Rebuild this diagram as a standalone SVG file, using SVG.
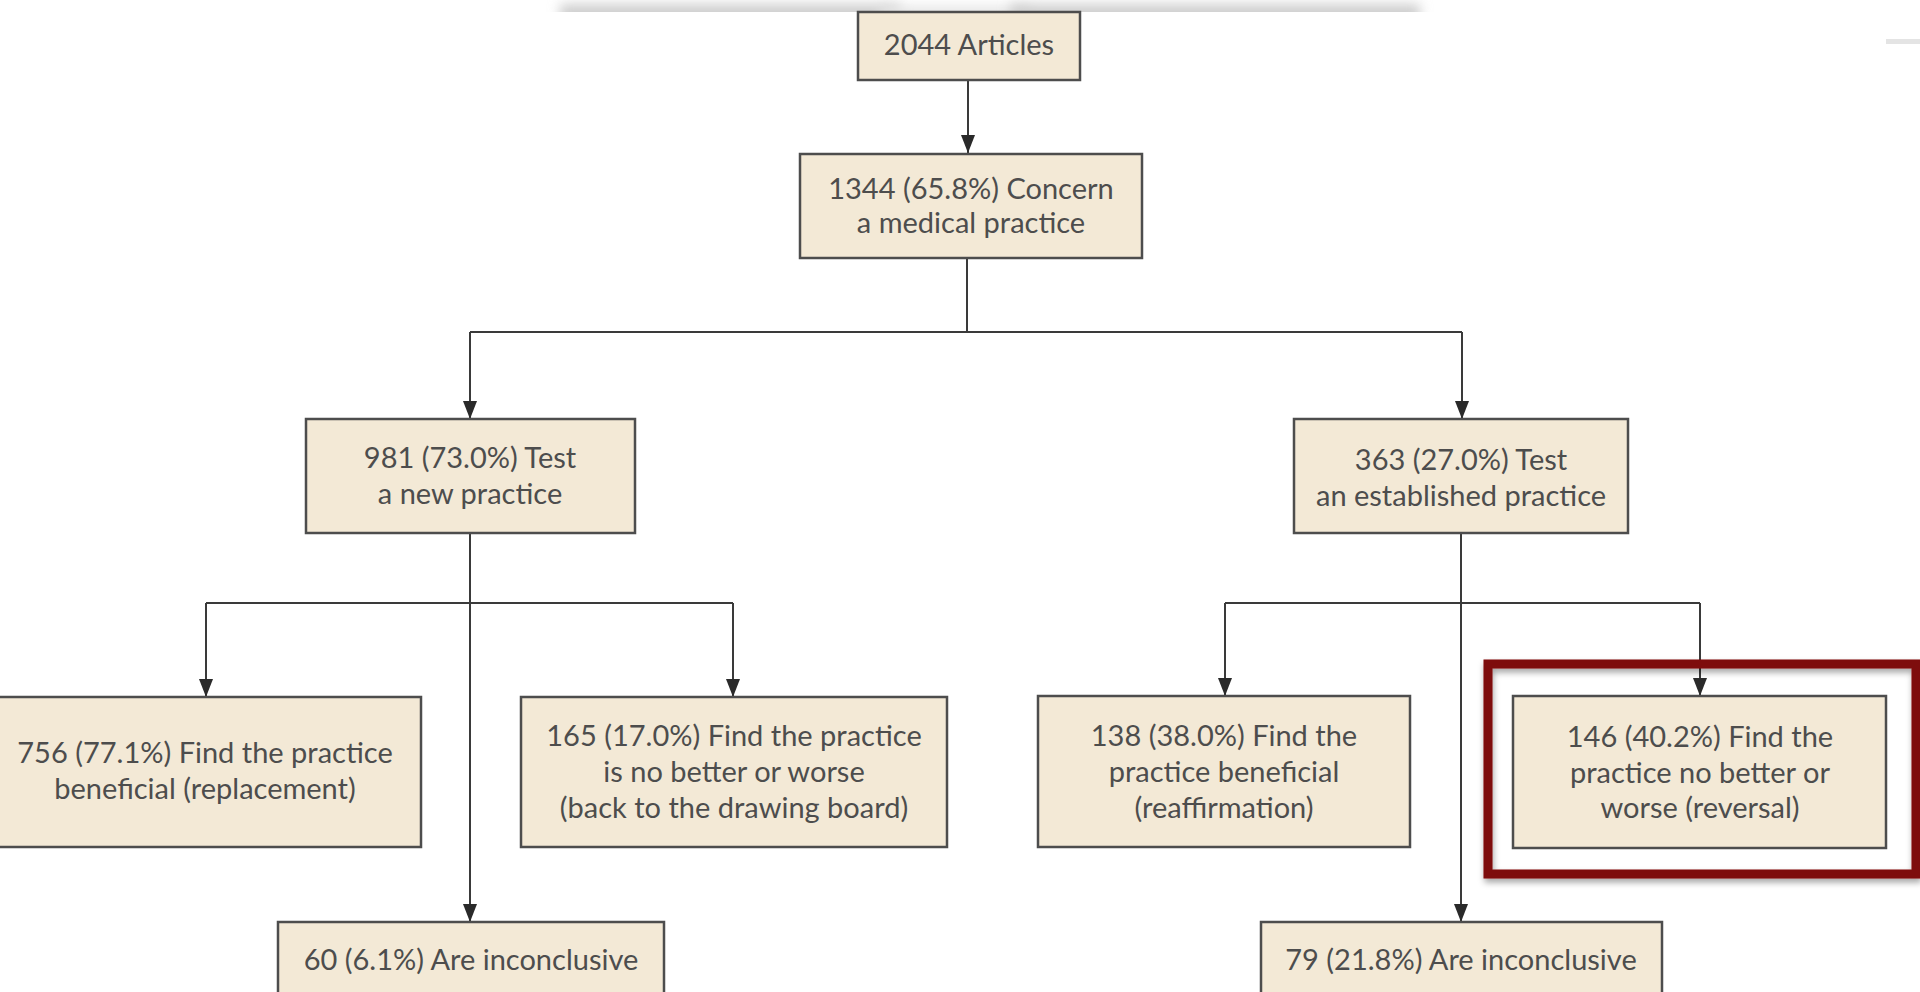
<svg xmlns="http://www.w3.org/2000/svg" width="1920" height="992" viewBox="0 0 1920 992">
<style>
.box{fill:#f3e9d6;stroke:#4d4d4d;stroke-width:2.5}
.t{font-family:Lato,"Open Sans","Liberation Sans",sans-serif;font-size:29px;fill:#4d4d4d;text-anchor:middle}
.c{fill:none;stroke:#3a3a3a;stroke-width:2}
</style>
<defs>
<marker id="ah" viewBox="0 0 18 14" refX="18" refY="7" markerWidth="18" markerHeight="14" markerUnits="userSpaceOnUse" orient="auto">
<path d="M0,0 L18,7 L0,14 z" fill="#2a2a2a"/>
</marker>
<filter id="blur" x="-20%" y="-300%" width="140%" height="700%"><feGaussianBlur stdDeviation="6"/></filter>
<filter id="sh" x="-10%" y="-10%" width="130%" height="130%"><feDropShadow dx="1" dy="4" stdDeviation="3" flood-color="#000" flood-opacity="0.35"/></filter>
</defs>
<rect width="1920" height="992" fill="#fff"/>
<g id="topband">
<rect x="560" y="4" width="340" height="22" fill="#cfcfcf" filter="url(#blur)"/>
<rect x="880" y="6" width="150" height="22" fill="#e6e6e6" filter="url(#blur)"/>
<rect x="1010" y="4" width="410" height="22" fill="#cfcfcf" filter="url(#blur)"/>
<rect x="0" y="12" width="1920" height="40" fill="#fff"/>
<rect x="1886" y="39" width="34" height="5" fill="#e4e4e4"/>
</g>
<g id="connectors">
<path class="c" d="M968,80 V153" marker-end="url(#ah)"/>
<path class="c" d="M967,259 V332 M470,332 H1462"/>
<path class="c" d="M470,332 V419" marker-end="url(#ah)"/>
<path class="c" d="M1462,332 V419" marker-end="url(#ah)"/>
<path class="c" d="M470,533 V922" marker-end="url(#ah)"/>
<path class="c" d="M206,603 H733"/>
<path class="c" d="M206,603 V697" marker-end="url(#ah)"/>
<path class="c" d="M733,603 V697" marker-end="url(#ah)"/>
<path class="c" d="M1461,533 V922" marker-end="url(#ah)"/>
<path class="c" d="M1225,603 H1700"/>
<path class="c" d="M1225,603 V696" marker-end="url(#ah)"/>
<path class="c" d="M1700,603 V696" marker-end="url(#ah)"/>
</g>
<g id="n2044"><rect class="box" x="858" y="12" width="222" height="68"/><text class="t" x="969" y="55">2044 Articles</text></g>
<g id="n1344"><rect class="box" x="800" y="154" width="342" height="104"/><text class="t" x="971" y="199">1344 (65.8%) Concern</text><text class="t" x="971" y="233">a medical practice</text></g>
<g id="n981"><rect class="box" x="306" y="419" width="329" height="114"/><text class="t" x="470" y="468">981 (73.0%) Test</text><text class="t" x="470" y="504">a new practice</text></g>
<g id="n363"><rect class="box" x="1294" y="419" width="334" height="114"/><text class="t" x="1461" y="470">363 (27.0%) Test</text><text class="t" x="1461" y="506">an established practice</text></g>
<g id="n756"><rect class="box" x="-10" y="697" width="431" height="150"/><text class="t" x="205" y="763">756 (77.1%) Find the practice</text><text class="t" x="205" y="799">beneficial (replacement)</text></g>
<g id="n165"><rect class="box" x="521" y="697" width="426" height="150"/><text class="t" x="734" y="746">165 (17.0%) Find the practice</text><text class="t" x="734" y="782">is no better or worse</text><text class="t" x="734" y="818">(back to the drawing board)</text></g>
<g id="n138"><rect class="box" x="1038" y="696" width="372" height="151"/><text class="t" x="1224" y="746">138 (38.0%) Find the</text><text class="t" x="1224" y="782">practice beneficial</text><text class="t" x="1224" y="818">(reaffirmation)</text></g>
<g id="n146"><rect class="box" x="1513" y="696" width="373" height="152"/><text class="t" x="1700" y="747">146 (40.2%) Find the</text><text class="t" x="1700" y="783">practice no better or</text><text class="t" x="1700" y="818">worse (reversal)</text></g>
<g id="n60"><rect class="box" x="278" y="922" width="386" height="90"/><text class="t" x="471" y="970">60 (6.1%) Are inconclusive</text></g>
<g id="n79"><rect class="box" x="1261" y="922" width="401" height="90"/><text class="t" x="1461" y="970">79 (21.8%) Are inconclusive</text></g>
<g id="highlight"><rect x="1488" y="664" width="428" height="210" fill="none" stroke="#7e0a0a" stroke-width="9" filter="url(#sh)"/></g>
</svg>
